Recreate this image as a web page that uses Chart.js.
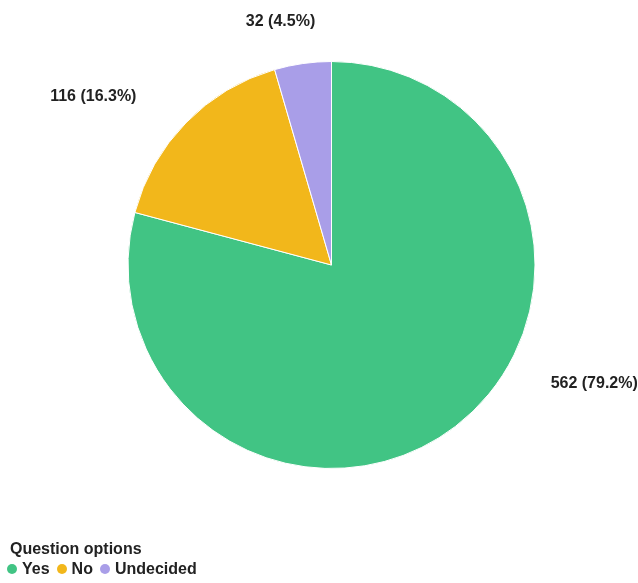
<!DOCTYPE html>
<html>
<head>
<meta charset="utf-8">
<script src="https://cdn.jsdelivr.net/npm/chart.js@4.4.1/dist/chart.umd.min.js"></script>
<style>
  html, body { margin: 0; padding: 0; background: #fff; }
  .wrap { position: relative; width: 638px; height: 583px; font-family: "Liberation Sans", Arial, sans-serif; color: #222; }
  canvas { position: absolute; left: 0; top: 0; }
  .legend { position: absolute; left: 10px; top: 539px; font-weight: bold; font-size: 16px; line-height: 20px; }
  .legend .items { display: flex; align-items: center; margin-left: -3px; }
  .legend .item { display: flex; align-items: center; margin-right: 7px; }
  .legend .dot { width: 10px; height: 10px; border-radius: 50%; margin-right: 5px; }
</style>
</head>
<body>
<div class="wrap">
  <canvas id="pie" width="638" height="583"></canvas>
  <div class="legend" id="legend"></div>
</div>
<script>
const legendTitle = "Question options";
const categories = ["Yes", "No", "Undecided"];
const counts = [562, 116, 32];
const percents = ["79.2%", "16.3%", "4.5%"];
const colors = ["#41c484", "#f2b71b", "#a99ee8"];

const els = {
  canvas: document.getElementById("pie"),
  legend: document.getElementById("legend"),
};

// value labels outside the slices, pushed off the arc's mid angle
const outerLabels = {
  id: "outerLabels",
  afterDatasetsDraw(chart, args, opts) {
    const { ctx } = chart;
    const meta = chart.getDatasetMeta(0);
    ctx.save();
    ctx.font = "bold 16px 'Liberation Sans', Arial, sans-serif";
    ctx.fillStyle = "#222";
    ctx.textAlign = "center";
    ctx.textBaseline = "middle";
    meta.data.forEach((arc, i) => {
      const p = arc.getProps(["x", "y", "startAngle", "endAngle", "outerRadius"], true);
      const a = (p.startAngle + p.endAngle) / 2 + ((opts.nudge[i] || 0) * Math.PI) / 180;
      const text = `${counts[i]} (${percents[i]})`;
      const hw = ctx.measureText(text).width / 2;
      const r = p.outerRadius + opts.gap[i];
      const x = p.x + (r + hw) * Math.cos(a);
      const y = p.y + (r + 8) * Math.sin(a);
      ctx.fillText(text, x, y);
    });
    ctx.restore();
  },
};

const renderLegend = () => {
  const items = categories
    .map((label, idx) => `<div class="item"><span class="dot" style="background:${colors[idx]}"></span>${label}</div>`)
    .join("");
  els.legend.innerHTML = `<div>${legendTitle}</div><div class="items">${items}</div>`;
};

new Chart(els.canvas, {
  type: "pie",
  data: {
    labels: categories,
    datasets: [
      {
        data: counts,
        backgroundColor: colors,
        borderColor: "#ffffff",
        borderWidth: 1,
      },
    ],
  },
  options: {
    responsive: false,
    animation: false,
    layout: { padding: { top: 61, bottom: 114, left: 25, right: 0 } },
    plugins: {
      legend: { display: false },
      tooltip: { enabled: false },
      outerLabels: { gap: [48, 58, 36], nudge: [-25.4, -5.8, -2.6] },
    },
  },
  plugins: [outerLabels],
});

renderLegend();
</script>
</body>
</html>
